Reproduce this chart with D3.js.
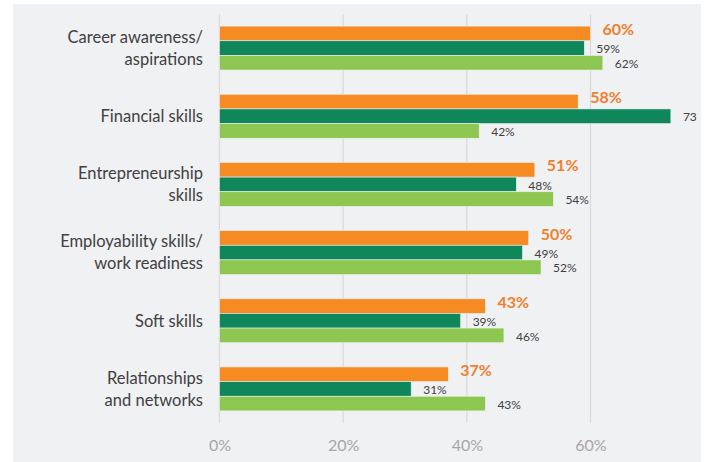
<!DOCTYPE html>
<html>
<head>
<meta charset="utf-8">
<script src="https://cdn.jsdelivr.net/npm/d3@7"></script>
<style>
  body { margin: 0; background: #fff; }
  svg { display: block; }
</style>
</head>
<body>
<svg></svg>
<script>
// chart data
var categories = [
  ["Career awareness/", "aspirations"],
  ["Financial skills"],
  ["Entrepreneurship", "skills"],
  ["Employability skills/", "work readiness"],
  ["Soft skills"],
  ["Relationships", "and networks"]
];
var series1 = [60, 58, 51, 50, 43, 37];
var series2 = [59, 73, 48, 49, 39, 31];
var series3 = [62, 42, 54, 52, 46, 43];
var series2Labels = ["59%", "73", "48%", "49%", "39%", "31%"];
var xTicks = [0, 20, 40, 60];

var colors = ["#f68b24", "#0f875b", "#8dc752"];

var width = 707, height = 462;

var svg = d3.select("svg")
  .attr("width", width)
  .attr("height", height);

// panel background
svg.append("rect")
  .attr("x", 13).attr("y", 4)
  .attr("width", 688).attr("height", 458)
  .attr("fill", "#f0f1f3");

// scales
var x = d3.scaleLinear().domain([0, 60]).range([219.5, 590.5]);
var y = d3.scaleBand()
  .domain(d3.range(categories.length))
  .range([14, 423])
  .paddingInner(0.355)
  .paddingOuter(0.1775);
var y1 = d3.scaleBand()
  .domain(d3.range(3))
  .range([0, y.bandwidth()]);

// grid lines
svg.append("g")
  .selectAll("line")
  .data(xTicks)
  .enter().append("line")
  .attr("x1", function(d) { return x(d); })
  .attr("x2", function(d) { return x(d); })
  .attr("y1", 14)
  .attr("y2", 423)
  .attr("stroke", "#d9d9d9")
  .attr("stroke-width", 1.2);

// x axis labels
var xAxis = svg.append("g")
  .attr("transform", "translate(0,440)")
  .call(d3.axisBottom(x).tickValues(xTicks).tickSize(0).tickPadding(0)
    .tickFormat(function(d) { return d + "%"; }));
xAxis.select(".domain").remove();
xAxis.selectAll("text")
  .attr("font-family", "Lato, sans-serif")
  .attr("font-size", 16)
  .attr("fill", "#a6a6a6")
  .attr("dy", "0.71em");

// bars
var rows = categories.map(function(c, i) {
  return [series1[i], series2[i], series3[i]];
});

var groups = svg.append("g")
  .selectAll("g")
  .data(rows)
  .enter().append("g")
  .attr("transform", function(d, i) { return "translate(0," + y(i) + ")"; });

groups.selectAll("rect")
  .data(function(d) { return d; })
  .enter().append("rect")
  .attr("x", x(0))
  .attr("y", function(d, j) { return y1(j); })
  .attr("width", function(d) { return x(d) - x(0); })
  .attr("height", y1.bandwidth())
  .attr("fill", function(d, j) { return colors[j]; })
  .attr("stroke", "#f0f1f3")
  .attr("stroke-width", 0.6);

// value labels
groups.selectAll("text")
  .data(function(d, i) { return d.map(function(v, j) { return {v: v, j: j, i: i}; }); })
  .enter().append("text")
  .attr("x", function(d) { return x(d.v) + 12; })
  .attr("y", function(d) { return y1(d.j) + y1.bandwidth() / 2 + (d.j == 0 ? -4 : 1); })
  .attr("dy", "0.35em")
  .attr("font-family", "Lato, sans-serif")
  .attr("font-size", function(d) { return d.j == 0 ? 16 : 12; })
  .attr("font-weight", function(d) { return d.j == 0 ? "bold" : "normal"; })
  .attr("fill", function(d) { return d.j == 0 ? "#f07f2d" : "#404040"; })
  .text(function(d) {
    if (d.j == 1) return series2Labels[d.i];
    return d.v + "%";
  });

// category labels
var cat = svg.append("g")
  .selectAll("text")
  .data(categories)
  .enter().append("text")
  .attr("x", 203)
  .attr("y", function(d, i) { return y(i) + y.bandwidth() / 2; })
  .attr("text-anchor", "end")
  .attr("font-family", "Lato, sans-serif")
  .attr("font-size", 16.5)
  .attr("fill", "#404040");

cat.selectAll("tspan")
  .data(function(d) { return d.map(function(t, k) { return {t: t, k: k, n: d.length}; }); })
  .enter().append("tspan")
  .attr("x", 203)
  .attr("dy", function(d) {
    if (d.k == 0) return (0.35 - (d.n - 1) * 0.66) + "em";
    return "1.33em";
  })
  .text(function(d) { return d.t; });
</script>
</body>
</html>
